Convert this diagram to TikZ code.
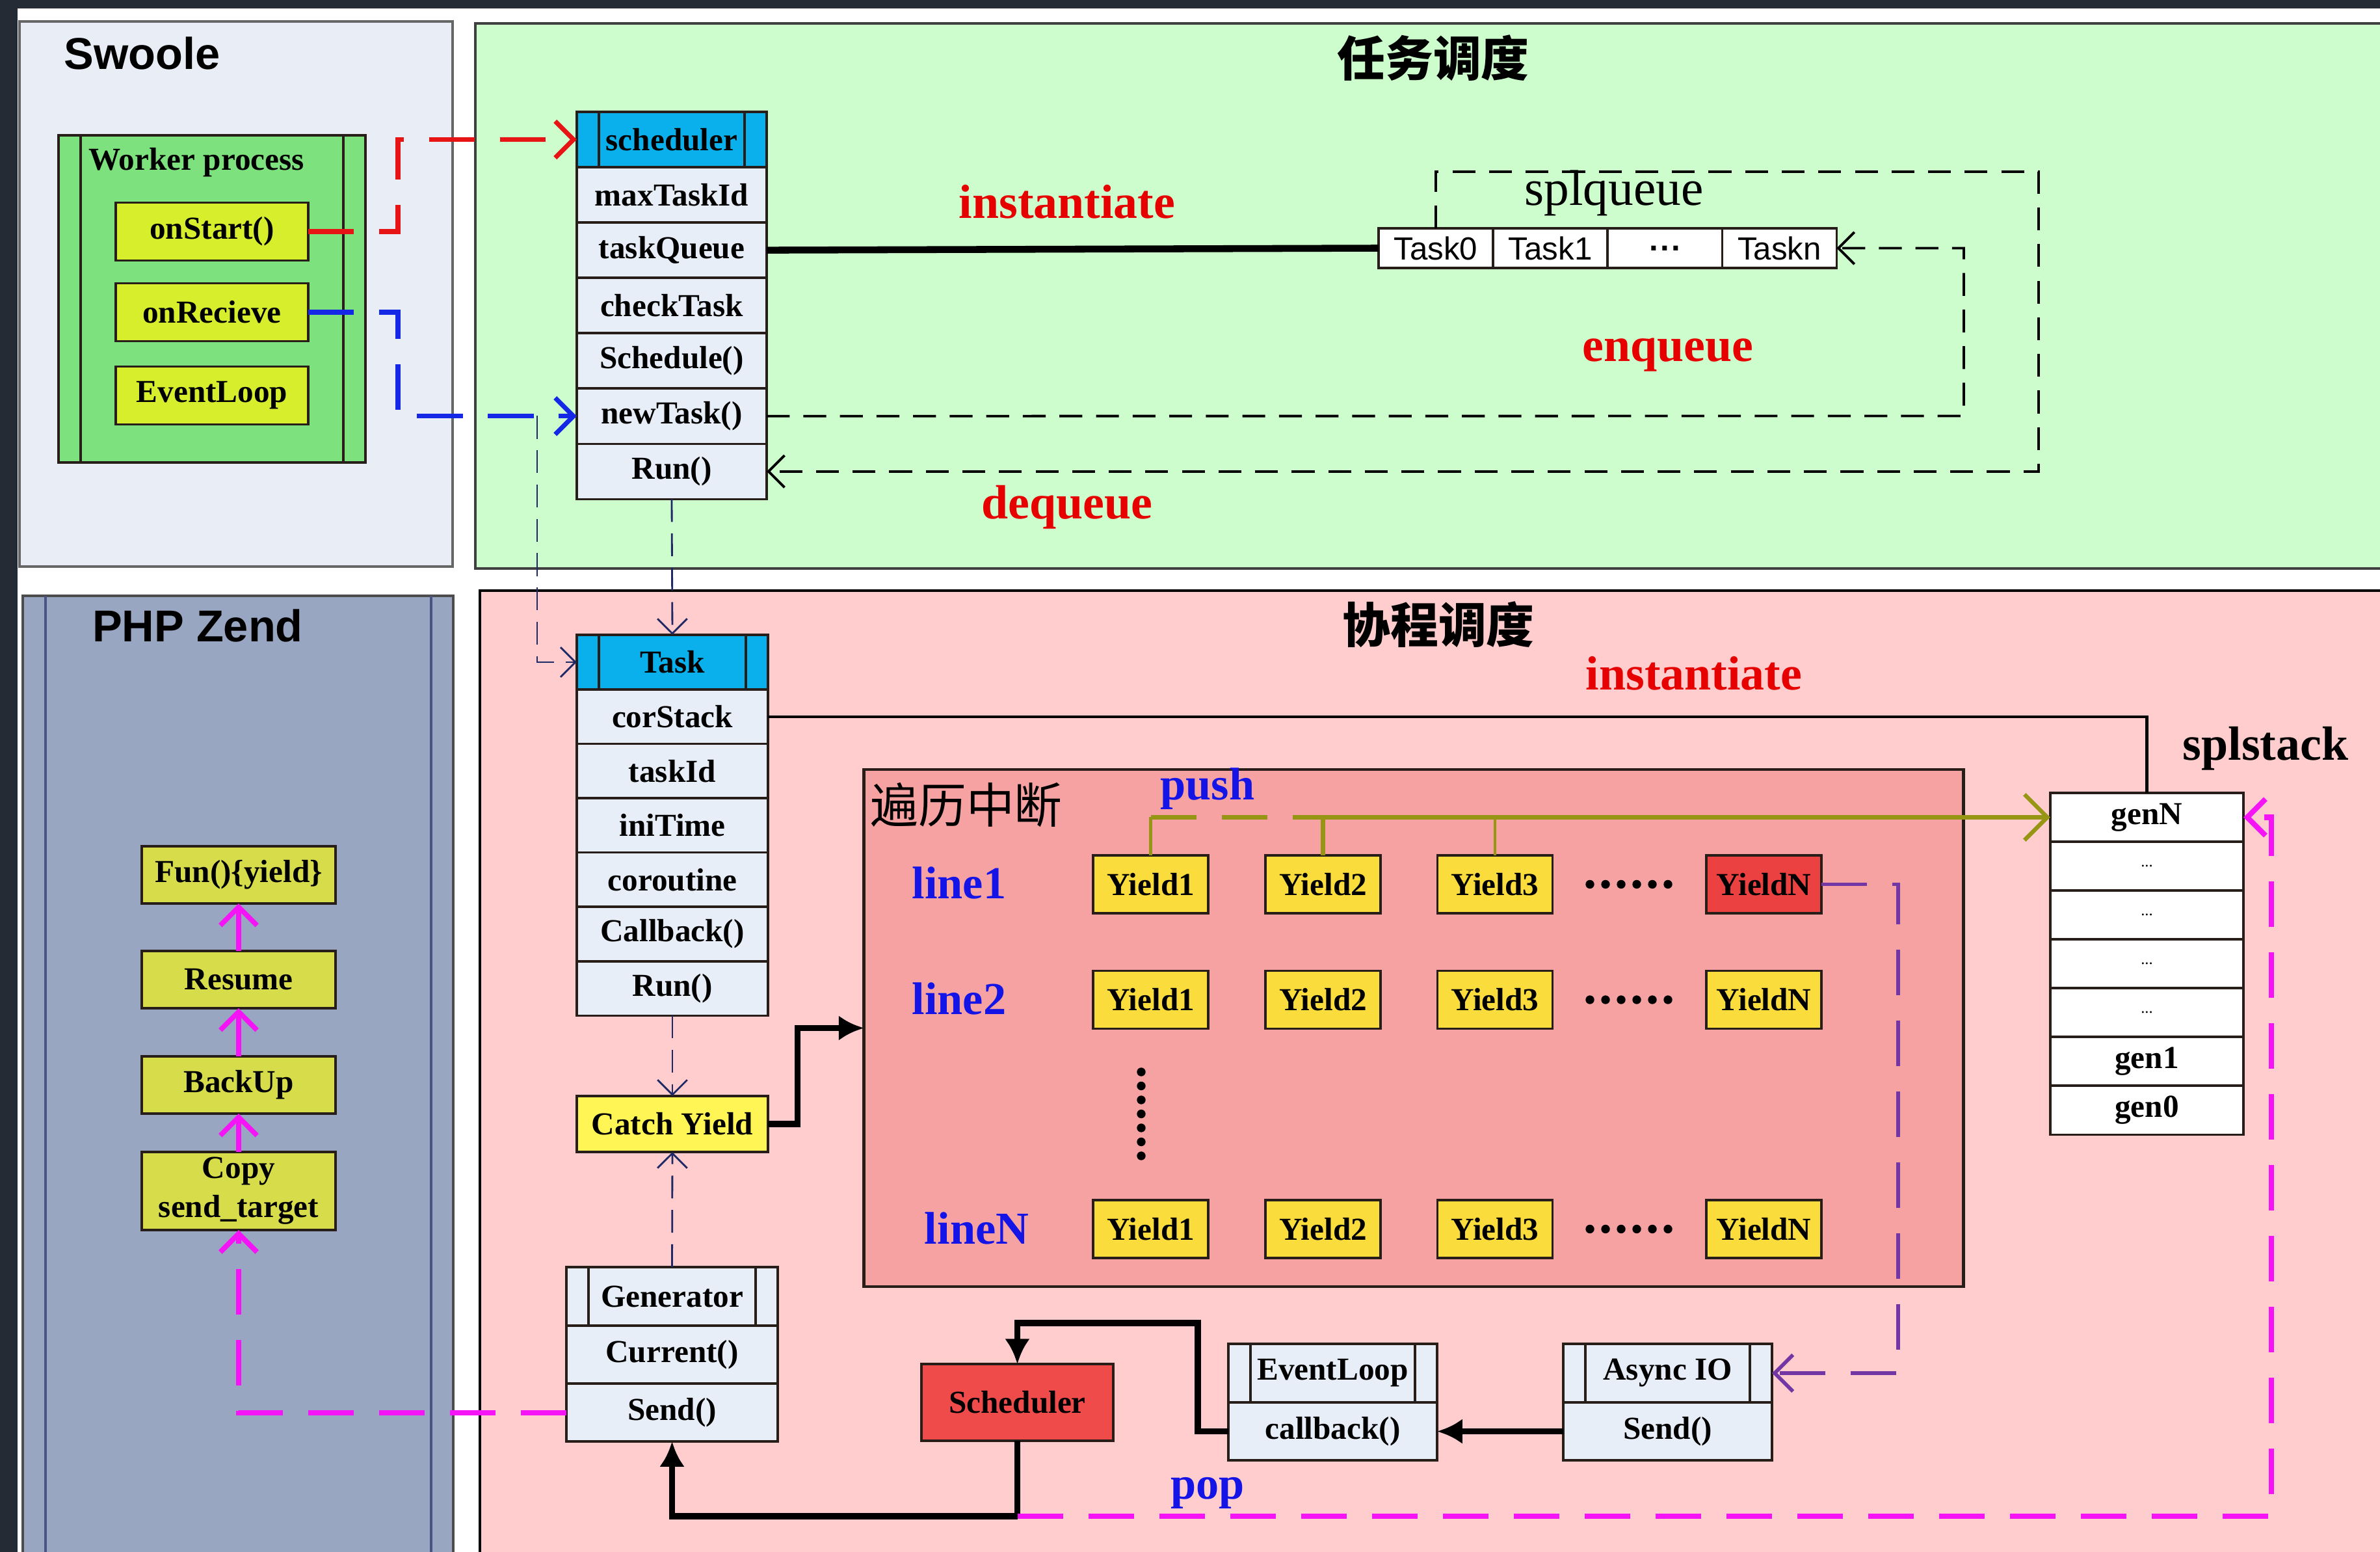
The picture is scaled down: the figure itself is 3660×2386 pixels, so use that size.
\documentclass[tikz,border=0pt]{standalone}
\usepackage{fontspec}
\setmainfont{Liberation Serif}
\newfontfamily\arialfont{Liberation Sans}
\newfontfamily\cjkfont{Noto Sans CJK SC}
\usetikzlibrary{arrows.meta,positioning}

\definecolor{darkbg}{RGB}{36,43,53}
\definecolor{swoolebg}{RGB}{233,238,246}
\definecolor{greenbg}{RGB}{205,252,205}
\definecolor{workerbg}{RGB}{125,225,125}
\definecolor{ygbox}{RGB}{215,238,45}
\definecolor{headblue}{RGB}{10,176,235}
\definecolor{rowbg}{RGB}{232,238,248}
\definecolor{zendbg}{RGB}{152,166,194}
\definecolor{funbg}{RGB}{215,220,75}
\definecolor{pinkbg}{RGB}{255,205,205}
\definecolor{breakbg}{RGB}{246,162,162}
\definecolor{yieldbg}{RGB}{250,220,60}
\definecolor{yieldred}{RGB}{235,65,65}
\definecolor{catchbg}{RGB}{255,245,85}
\definecolor{schedred}{RGB}{240,75,75}
\definecolor{pushol}{RGB}{150,150,20}
\definecolor{asyncpu}{RGB}{115,55,165}
\definecolor{popmag}{RGB}{245,20,245}
\definecolor{navyc}{RGB}{30,40,100}
\definecolor{startred}{RGB}{230,20,20}
\definecolor{rcvblue}{RGB}{20,40,230}
\definecolor{lblred}{RGB}{230,0,0}
\definecolor{lblblue}{RGB}{20,20,230}
\definecolor{edgec}{RGB}{40,30,25}

\newcommand\boxfont{\fontsize{14}{17}\selectfont\bfseries}
\newcommand\lblfont{\fontsize{21}{24}\selectfont\bfseries}
\newcommand\linefont{\fontsize{20}{23}\selectfont\bfseries}
\newcommand\cjktitle{\cjkfont\fontsize{21}{24}\selectfont\bfseries}
\newcommand\panelfont{\arialfont\fontsize{19.5}{22}\selectfont\bfseries}

\tikzset{
  box/.style={draw=edgec, line width=1pt, outer sep=0pt, inner sep=0pt, font=\boxfont},
  clsrow/.style={box, fill=rowbg, minimum width=2.92cm, minimum height=0.85cm},
  sides/.style={path picture={\draw[line width=1pt, edgec]
      ([xshift=0.34cm]path picture bounding box.north west) -- ([xshift=0.34cm]path picture bounding box.south west)
      ([xshift=-0.34cm]path picture bounding box.north east) -- ([xshift=-0.34cm]path picture bounding box.south east);}},
  ygbox/.style={box, fill=ygbox, minimum width=2.96cm, minimum height=0.89cm},
  funbox/.style={box, fill=funbg, minimum width=2.98cm, minimum height=0.88cm},
  yieldbox/.style={box, fill=yieldbg, minimum width=1.77cm, minimum height=0.89cm},
  qcell/.style={box, fill=white, minimum width=1.76cm, minimum height=0.61cm, font=\arialfont\fontsize{14}{17}\selectfont},
  stk/.style={box, fill=white, minimum width=2.97cm, minimum height=0.75cm},
  redlbl/.style={text=lblred, font=\lblfont, inner sep=0pt},
  bluelbl/.style={text=lblblue, font=\linefont, inner sep=0pt},
  barb/.style={-{Straight Barb[length=#1, width=2*#1]}},
  bigdash/.style={dash pattern=on 20pt off 11pt},
  redln/.style={startred, line width=2pt, bigdash, barb=8pt},
  blueln/.style={rcvblue, line width=2pt, bigdash, barb=8pt},
  qdash/.style={black, line width=1.1pt, dash pattern=on 10pt off 6pt, barb=7pt},
  navyln/.style={navyc, line width=0.8pt, dash pattern=on 10pt off 5pt, barb=6.5pt},
  magln/.style={popmag, line width=2.3pt, bigdash},
  purpln/.style={asyncpu, line width=1.6pt, bigdash, barb=8pt},
  fatln/.style={black, line width=2.6pt},
  fatarr/.style={fatln, -{Latex[length=11pt, width=11pt]}}
}

\begin{document}
\begin{tikzpicture}[x=0.01cm, y=-0.01cm]
\useasboundingbox (0,0) rectangle (3660,2386);
\fill[white] (0,0) rectangle (3660,2386);
\fill[darkbg] (0,0) rectangle (3660,13);
\fill[darkbg] (0,0) rectangle (27,2386);
% % % % % % % % % % % % % % % % % % % panels
\draw[black!60, line width=1pt, fill=swoolebg] (30,33) rectangle (696,871);
\draw[black!75, line width=1.2pt, fill=greenbg] (731,36) rectangle (3700,874);
\draw[black!70, line width=1pt, fill=zendbg] (35,916) rectangle (697,2420);
\draw[navyc!80, line width=1pt] (70,916) -- (70,2420) (663,916) -- (663,2420);
\draw[black, line width=1pt, fill=pinkbg] (738,908) rectangle (3700,2420);

\node[font=\panelfont, anchor=west, inner sep=0pt] (swoole) at (98,82) {Swoole};
\node[font=\panelfont] (zend) at (304,962) {PHP Zend};
\node[font=\cjktitle] (ttask) at (2204,89) {任务调度};
\node[font=\cjktitle] (tcoro) at (2212,960) {协程调度};
% % % % % % % % % % % % % % % % % % % Swoole worker
\node[box, fill=workerbg, sides, minimum width=4.72cm, minimum height=5.03cm] (worker) at (326,459.5) {};
\node[font=\boxfont] (wtitle) at (302,250) {Worker process};
\node[ygbox] (onstart) at (326,356) {onStart()};
\node[ygbox] (onrcv) at (326,480) {onRecieve};
\node[ygbox] (evloop) at (326,608) {EventLoop};
% % % % % % % % % % % % % % % % % % % scheduler class
\node[clsrow, fill=headblue, sides] (sched) at (1033,214.5) {scheduler};
\node[clsrow, below=0pt of sched] (smax) {maxTaskId};
\node[clsrow, below=0pt of smax] (squeue) {taskQueue};
\node[clsrow, below=0pt of squeue] (scheck) {checkTask};
\node[clsrow, below=0pt of scheck] (ssched) {Schedule()};
\node[clsrow, below=0pt of ssched] (snew) {newTask()};
\node[clsrow, below=0pt of snew] (srun) {Run()};
% % % % % % % % % % % % % % % % % % % splqueue
\node[qcell] (q0) at (2208,381.5) {Task0};
\node[qcell, right=0pt of q0] (q1) {Task1};
\node[qcell, right=0pt of q1, font=\arialfont\fontsize{14}{17}\selectfont\bfseries] (q2) {.\kern1pt.\kern1pt.};
\node[qcell, right=0pt of q2] (q3) {Taskn};
\node[font=\fontsize{22}{25}\selectfont] (splq) at (2482,297) {splqueue};

\draw[line width=3pt] (squeue.east) -- (q0.west);
\draw[qdash] (snew.east) -- (3020,639.5) |- (q3.east);
\draw[qdash] (q0.north) |- (3135,264) |- (srun.east);
\node[redlbl] (inst1) at (1641,310) {instantiate};
\node[redlbl] (enq) at (2565,546) {enqueue};
\node[redlbl] (deq) at (1641,780) {dequeue};

\draw[redln] (onstart.east) -- (612,356) |- (sched.west);
\draw[blueln] (onrcv.east) -- (612,480) |- (snew.west);
% % % % % % % % % % % % % % % % % % % task class
\node[clsrow, fill=headblue, sides, minimum width=2.94cm, minimum height=0.84cm] (task) at (1034,1018) {Task};
\node[clsrow, minimum width=2.94cm, minimum height=0.835cm, below=0pt of task] (tcor) {corStack};
\node[clsrow, minimum width=2.94cm, minimum height=0.835cm, below=0pt of tcor] (tid) {taskId};
\node[clsrow, minimum width=2.94cm, minimum height=0.835cm, below=0pt of tid] (tini) {iniTime};
\node[clsrow, minimum width=2.94cm, minimum height=0.835cm, below=0pt of tini] (tco) {coroutine};
\node[clsrow, minimum width=2.94cm, minimum height=0.835cm, below=0pt of tco] (tcb) {Callback()};
\node[clsrow, minimum width=2.94cm, minimum height=0.835cm, below=0pt of tcb] (trun) {Run()};

\coordinate (fork) at (826,639.5);
\draw[navyln] (fork) |- (task.west);
\draw[navyln] (srun.south) -- (task.north);

\node[box, fill=catchbg, minimum width=2.94cm, minimum height=0.86cm] (catch) at (1034,1728) {Catch Yield};
\draw[navyln] (trun.south) -- (catch.north);

\node[clsrow, sides, minimum width=3.25cm, minimum height=0.9cm] (gen) at (1033.5,1993) {Generator};
\node[clsrow, minimum width=3.25cm, minimum height=0.89cm, below=0pt of gen] (gcur) {Current()};
\node[clsrow, minimum width=3.25cm, minimum height=0.89cm, below=0pt of gcur] (gsend) {Send()};
\draw[navyln] (gen.north) -- (catch.south);
% % % % % % % % % % % % % % % % % % % PHP Zend
\node[funbox] (fun) at (367,1345) {Fun()\{yield\}};
\node[funbox] (resume) at (367,1506) {Resume};
\node[funbox] (backup) at (367,1668) {BackUp};
\node[funbox, minimum height=1.2cm, align=center] (copy) at (367,1831) {Copy\\send\_target};
\draw[popmag, line width=2.2pt, barb=8pt] (resume.north) -- (fun.south);
\draw[popmag, line width=2.2pt, barb=8pt] (backup.north) -- (resume.south);
\draw[popmag, line width=2.2pt, barb=8pt] (copy.north) -- (backup.south);
\draw[magln, barb=8pt] (gsend.west) -| (copy.south);
% % % % % % % % % % % % % % % % % % % traversal
\node[redlbl] (inst2) at (2605,1035) {instantiate};
\node[draw=edgec, line width=1.2pt, fill=breakbg, minimum width=16.9cm, minimum height=7.95cm, outer sep=0pt] (brk) at (2174,1580.5) {};
\node[font=\cjkfont\fontsize{21}{24}\selectfont] (brkt) at (1486,1238) {遍历中断};
\draw[fatarr] (catch.east) -- ++(45,0) |- (brk.west);

\node[bluelbl] (l1) at (1475,1357) {line1};
\node[bluelbl] (l2) at (1475,1535) {line2};
\node[bluelbl] (lN) at (1502,1888) {lineN};

\node[yieldbox] (yA1) at (1769.5,1359.5) {Yield1};
\node[yieldbox] (yA2) at (2034.5,1359.5) {Yield2};
\node[yieldbox] (yA3) at (2299,1359.5) {Yield3};
\node[yieldbox, fill=yieldred] (yAN) at (2712.5,1359.5) {YieldN};
\node[yieldbox] (yB1) at (1769.5,1537) {Yield1};
\node[yieldbox] (yB2) at (2034.5,1537) {Yield2};
\node[yieldbox] (yB3) at (2299,1537) {Yield3};
\node[yieldbox] (yBN) at (2712.5,1537) {YieldN};
\node[yieldbox] (yN1) at (1769.5,1889.5) {Yield1};
\node[yieldbox] (yN2) at (2034.5,1889.5) {Yield2};
\node[yieldbox] (yN3) at (2299,1889.5) {Yield3};
\node[yieldbox] (yNN) at (2712.5,1889.5) {YieldN};
\foreach \y in {1359.5,1537,1889.5}
  \foreach \x in {0,...,5}
    \fill (2445+24*\x,\y) circle (1.9pt);
\foreach \k in {0,...,6}
  \fill (1755,1648+21.5*\k) circle (1.9pt);
% % % % % % % % % % % % % % % % % % % splstack
\node[stk] (gN) at (3301.5,1256.5) {genN};
\node[stk, below=0pt of gN, font=\fontsize{7}{8}\selectfont] (gd1) {...};
\node[stk, below=0pt of gd1, font=\fontsize{7}{8}\selectfont] (gd2) {...};
\node[stk, below=0pt of gd2, font=\fontsize{7}{8}\selectfont] (gd3) {...};
\node[stk, below=0pt of gd3, font=\fontsize{7}{8}\selectfont] (gd4) {...};
\node[stk, below=0pt of gd4] (g1) {gen1};
\node[stk, below=0pt of g1] (g0) {gen0};
\node[font=\lblfont] (splst) at (3484,1151) {splstack};
\draw[line width=1.2pt] (tcor.east) -| (gN.north);

\node[bluelbl] (push) at (1857,1213) {push};
\draw[pushol, line width=1.2pt] (yA1.north) -- (yA1.north |- gN.west);
\draw[pushol, line width=1.8pt, bigdash] (yA1.north |- gN.west) -- (yA2.north |- gN.west);
\draw[pushol, line width=1.8pt, barb=10pt] (yA2.north) |- (gN.west);
\draw[pushol, line width=1.4pt] (yA3.north) -- (yA3.north |- gN.west);
% % % % % % % % % % % % % % % % % % % event loop
\node[box, fill=schedred, minimum width=2.95cm, minimum height=1.18cm] (schbox) at (1564.5,2156) {Scheduler};
\node[clsrow, sides, minimum width=3.21cm, minimum height=0.9cm] (evl) at (2049.5,2111) {EventLoop};
\node[clsrow, minimum width=3.21cm, minimum height=0.89cm, below=0pt of evl] (evcb) {callback()};
\node[clsrow, sides, minimum width=3.21cm, minimum height=0.9cm] (aio) at (2564.5,2111) {Async IO};
\node[clsrow, minimum width=3.21cm, minimum height=0.89cm, below=0pt of aio] (asend) {Send()};

\draw[purpln] (yAN.east) -- (2919,1359.5) |- (aio.east);
\draw[fatarr] (asend.west) -- (evcb.east);
\draw[fatarr] (evcb.west) -- ++(-47,0) |- (schbox.north |- 0,2034) -- (schbox.north);

\coordinate (popc) at (1564.5,2331);
\draw[fatln] (schbox.south) -- (popc);
\draw[fatarr] (popc) -| (gsend.south);
\draw[magln, barb=8pt] (popc) -- (3493,2331) |- (gN.east);
\node[bluelbl] (pop) at (1857,2295) {pop};
\end{tikzpicture}
\end{document}
